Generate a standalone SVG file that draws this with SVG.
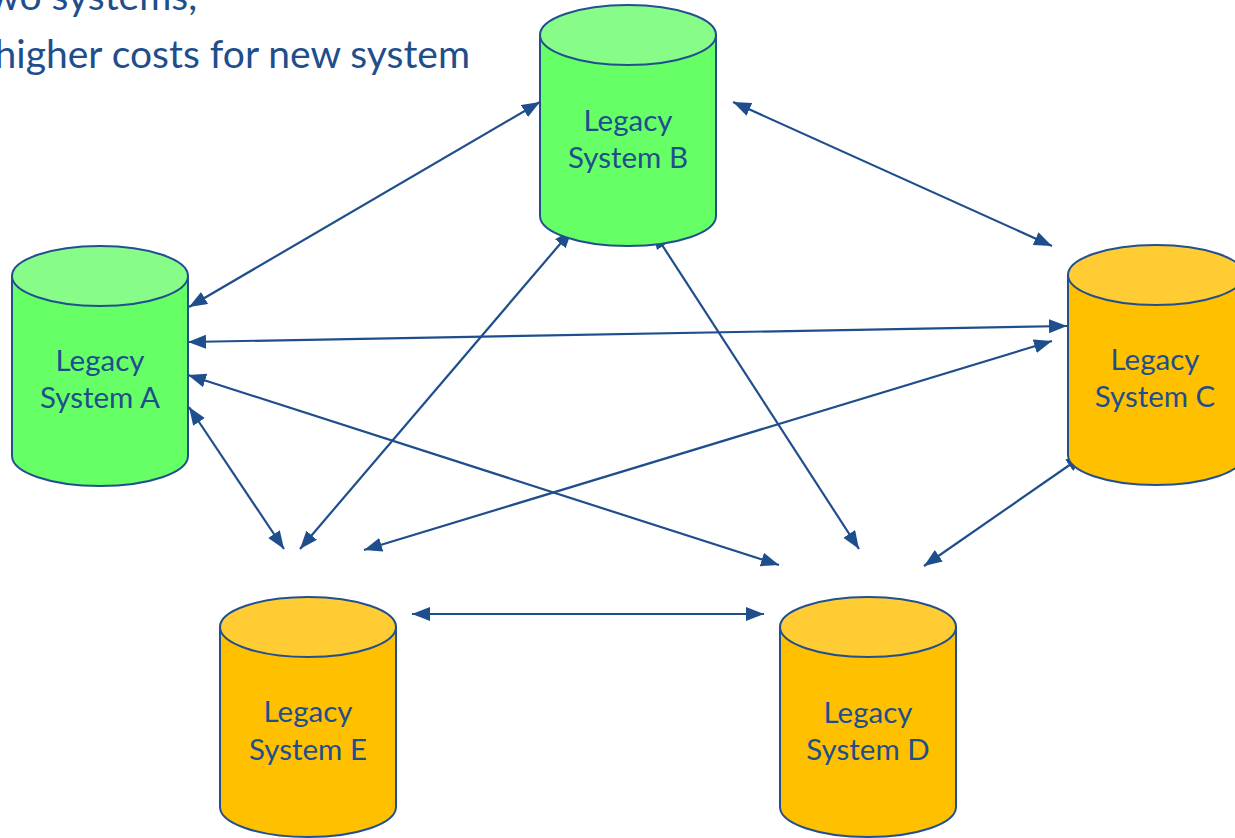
<svg xmlns="http://www.w3.org/2000/svg" width="1235" height="838" viewBox="0 0 1235 838">
<style>
.hdr{font-family:Lato,"Liberation Sans",sans-serif;font-size:39px;fill:#1F4E8C}
.lbl{font-family:Lato,"Liberation Sans",sans-serif;font-size:29.5px;fill:#1F4E8C;text-anchor:middle}
.cyl{stroke:#22508F;stroke-width:2}
.gb{fill:#66FF66}.gt{fill:#88FC88}
.ob{fill:#FFC000}.ot{fill:#FFCC33}
.con{stroke:#1F4E8C;stroke-width:2.2;fill:none;marker-start:url(#ah);marker-end:url(#ah)}
</style>
<defs>
<marker id="ah" markerUnits="userSpaceOnUse" markerWidth="20" markerHeight="16" refX="18" refY="7" orient="auto-start-reverse">
<path d="M0,0 L18,7 L0,14 Z" fill="#1F4E8C"/>
</marker>
</defs>
<rect width="1235" height="838" fill="#FFFFFF"/>
<text class="hdr" x="197" y="10" text-anchor="end">wo systems,</text>
<text class="hdr" x="470" y="68" text-anchor="end">higher costs for new system</text>

<g id="connectors">
<line class="con" x1="189" y1="307" x2="540" y2="102"/>
<line class="con" x1="188" y1="342" x2="1067" y2="326"/>
<line class="con" x1="188" y1="375" x2="779" y2="565"/>
<line class="con" x1="189" y1="407" x2="284" y2="549"/>
<line class="con" x1="300" y1="549" x2="572" y2="230"/>
<line class="con" x1="653" y1="231" x2="859" y2="549"/>
<line class="con" x1="733" y1="102" x2="1052" y2="246"/>
<line class="con" x1="364" y1="550" x2="1052" y2="341"/>
<line class="con" x1="924" y1="566" x2="1084" y2="455"/>
<line class="con" x1="412" y1="614" x2="764" y2="614"/>
</g>

<g id="node-b">
<path class="cyl gb" d="M540,35 L540,216 A88,30 0 0 0 716,216 L716,35 Z"/>
<ellipse class="cyl gt" cx="628" cy="35" rx="88" ry="30"/>
<text class="lbl" x="628" y="131">Legacy</text>
<text class="lbl" x="628" y="168">System B</text>
</g>
<g id="node-a">
<path class="cyl gb" d="M12,276 L12,456 A88,30 0 0 0 188,456 L188,276 Z"/>
<ellipse class="cyl gt" cx="100" cy="276" rx="88" ry="30"/>
<text class="lbl" x="100" y="371">Legacy</text>
<text class="lbl" x="100" y="408">System A</text>
</g>
<g id="node-c">
<path class="cyl ob" d="M1068,275 L1068,455 A88,30 0 0 0 1244,455 L1244,275 Z"/>
<ellipse class="cyl ot" cx="1156" cy="275" rx="88" ry="30"/>
<text class="lbl" x="1155" y="370">Legacy</text>
<text class="lbl" x="1155" y="407">System C</text>
</g>
<g id="node-e">
<path class="cyl ob" d="M220,627 L220,807 A88,30 0 0 0 396,807 L396,627 Z"/>
<ellipse class="cyl ot" cx="308" cy="627" rx="88" ry="30"/>
<text class="lbl" x="308" y="722">Legacy</text>
<text class="lbl" x="308" y="760">System E</text>
</g>
<g id="node-d">
<path class="cyl ob" d="M780,627 L780,807 A88,30 0 0 0 956,807 L956,627 Z"/>
<ellipse class="cyl ot" cx="868" cy="627" rx="88" ry="30"/>
<text class="lbl" x="868" y="723">Legacy</text>
<text class="lbl" x="868" y="760">System D</text>
</g>
</svg>
